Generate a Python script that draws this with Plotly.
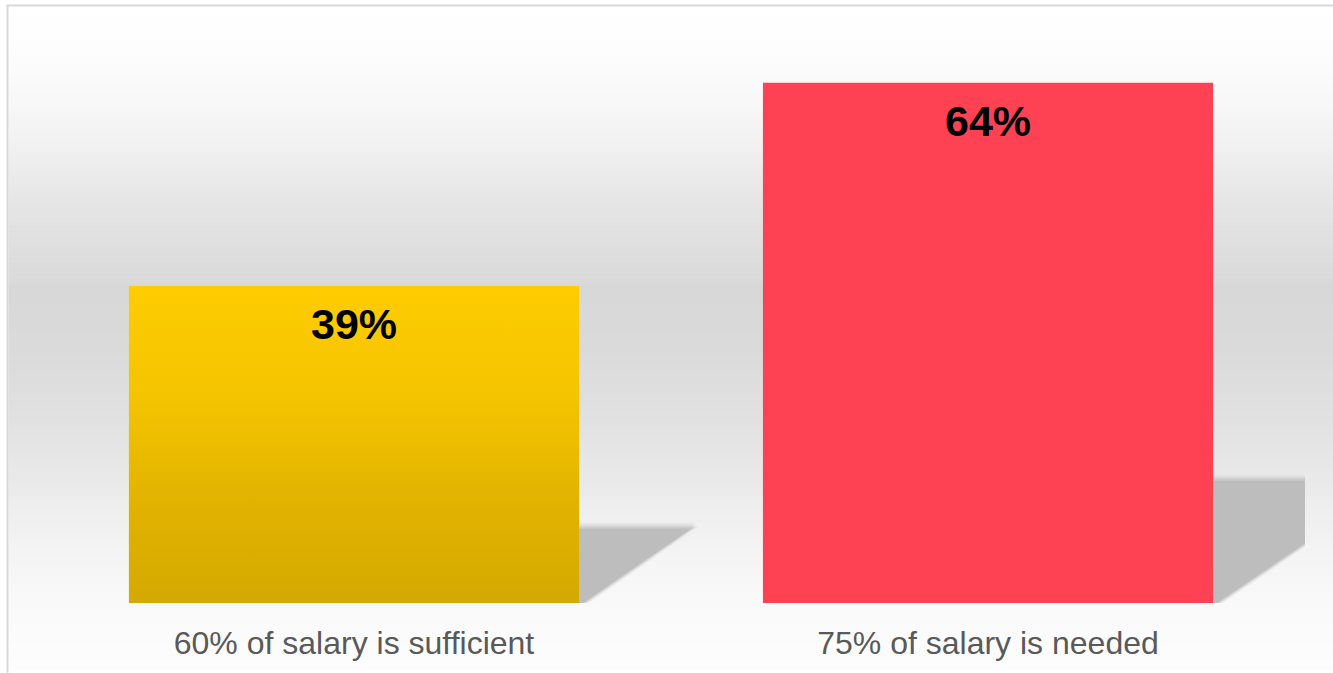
import numpy as np
import plotly.graph_objects as go

# ---- data ----
categories = ["60% of salary is sufficient", "75% of salary is needed"]
values = [39, 64]
value_labels = ["39%", "64%"]
bar_colors = ["#ffcc00", "#ff4154"]

# ---- layout geometry (pixels) ----
W, H = 1333, 673
ML, MR, MT, MB = 37, 28, 34, 68
PW, PH = W - ML - MR, H - MT - MB
YMAX = 70
BAR_W = 0.71
px_x = PW / 2.0          # pixels per x unit
px_y = PH / YMAX         # pixels per y unit


def xp(px):
    return (px - ML) / PW


def yp(py):
    return (H - MB - py) / PH


shapes = []
# background vertical gradient
stops_py = [7, 50, 100, 150, 200, 250, 290, 350, 400, 450, 500, 550, 600, 673]
stops_g = [255, 253, 248, 240, 230, 221, 216, 218, 223, 229, 236, 243, 249, 253]
step = 2
for y0 in range(7, H, step):
    g = int(round(np.interp(y0 + step / 2, stops_py, stops_g)))
    shapes.append(dict(type="rect", xref="paper", yref="paper",
                       x0=xp(8.5), x1=xp(W + 2), y0=yp(y0), y1=yp(min(y0 + step, H + 1) + 0.5),
                       fillcolor=f"rgb({g},{g},{g})", line=dict(width=0), layer="below"))
# border lines
shapes.append(dict(type="line", xref="paper", yref="paper", x0=xp(6.5), x1=xp(W + 2),
                   y0=yp(5.5), y1=yp(5.5), line=dict(color="#d9d9d9", width=2), layer="above"))
shapes.append(dict(type="line", xref="paper", yref="paper", x0=xp(7.5), x1=xp(7.5),
                   y0=yp(5), y1=yp(H + 2), line=dict(color="#d9d9d9", width=2), layer="above"))

fig = go.Figure()

# shadows
SH_RATIO = 0.235
SLOPE = 1.5
for i, v in enumerate(values):
    xr = i + BAR_W / 2
    h = SH_RATIO * v
    dx = h * px_y * SLOPE / px_x
    for d, col in [(6, "rgba(185,185,185,0.15)"), (4, "rgba(185,185,185,0.25)"),
                   (2, "rgba(187,187,187,0.45)"), (0, "#bdbdbd")]:
        ddx = d / px_x
        ddy = d / px_y
        xs = [xr, xr + 4 / px_x + ddx, xr + dx + ddx, xr + dx + ddx * 0.3, xr, xr]
        ys = [0, 0, h + ddy * 0.2, h + ddy, h + ddy, 0]
        fig.add_trace(go.Scatter(x=xs, y=ys, fill="toself", fillcolor=col, mode="lines",
                                 line=dict(width=0), hoverinfo="skip", showlegend=False))

# bars
fig.add_trace(go.Bar(x=list(range(len(categories))), y=values, width=BAR_W,
                     marker=dict(color=bar_colors, line=dict(width=0)),
                     hoverinfo="skip", showlegend=False))

# yellow bar gradient overlay
x0, x1 = 0 - BAR_W / 2, 0 + BAR_W / 2
fig.add_trace(go.Scatter(x=[x0, x1, x1, x0, x0], y=[0, 0, values[0], values[0], 0],
                         fill="toself", mode="lines", line=dict(width=0),
                         fillgradient=dict(type="vertical",
                                           colorscale=[[0, "#d4a900"], [0.3, "#e1b200"],
                                                       [0.65, "#f4c400"], [1, "#ffcc00"]]),
                         hoverinfo="skip", showlegend=False))

annotations = []
for i, (v, t) in enumerate(zip(values, value_labels)):
    annotations.append(dict(x=i, y=v, xref="x", yref="y", text=f"<b>{t}</b>", showarrow=False,
                            yanchor="middle", yshift=-38,
                            font=dict(family="Liberation Sans, Arial", size=43, color="#000000")))

fig.update_layout(
    width=W, height=H,
    margin=dict(l=ML, r=MR, t=MT, b=MB),
    paper_bgcolor="#ffffff", plot_bgcolor="rgba(0,0,0,0)",
    shapes=shapes, annotations=annotations, showlegend=False,
    xaxis=dict(range=[-0.5, 1.5], tickmode="array", tickvals=list(range(len(categories))),
               ticktext=categories, showgrid=False, zeroline=False, showline=False, ticks="",
               tickfont=dict(family="Liberation Sans, Arial", size=32, color="#595959"),
               ticklabelstandoff=18, fixedrange=True),
    yaxis=dict(range=[0, YMAX], showgrid=False, zeroline=False, showline=False,
               showticklabels=False, ticks="", fixedrange=True),
)

fig.write_html("out.html", config={"displayModeBar": False},
               post_script="document.body.style.margin='0';document.body.style.overflow='hidden';")
